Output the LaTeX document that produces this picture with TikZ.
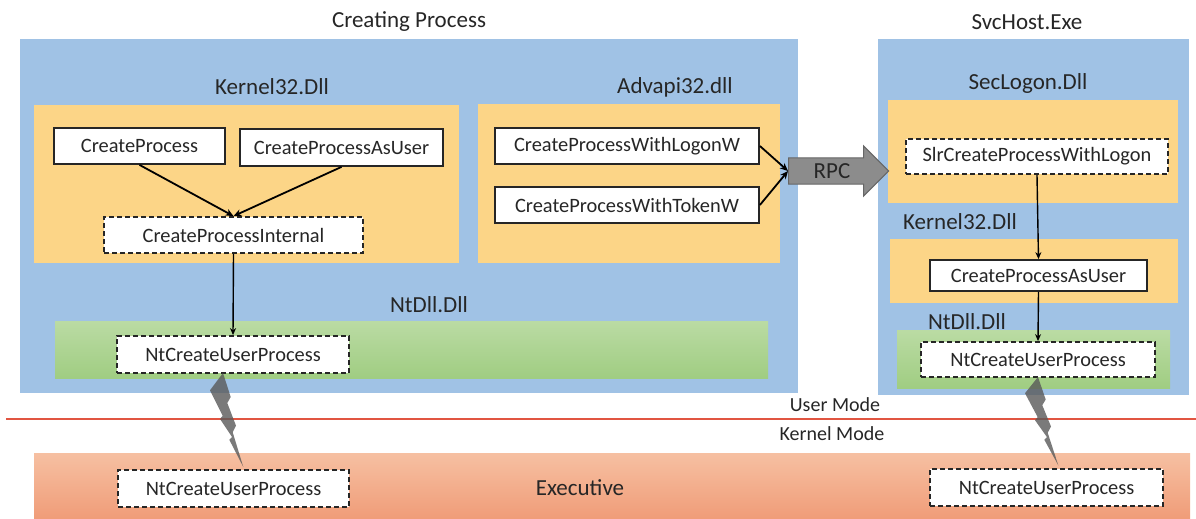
\documentclass[tikz,border=0pt]{standalone}
\usepackage{fontspec}
\setmainfont{Carlito}
\usetikzlibrary{shapes.arrows,arrows.meta}
\definecolor{bluebg}{RGB}{160,194,229}
\definecolor{orangebg}{RGB}{252,213,135}
\definecolor{greentop}{RGB}{186,219,163}
\definecolor{greenbot}{RGB}{160,205,130}
\definecolor{exectop}{RGB}{246,192,162}
\definecolor{execbot}{RGB}{240,156,120}
\definecolor{txt}{RGB}{38,38,38}
\definecolor{redline}{RGB}{225,85,65}
\begin{document}
\begin{tikzpicture}[x=0.5pt,y=-0.5pt,
  text=txt,
  solidbox/.style={draw=black!85, line width=0.9pt, fill=white, inner sep=0pt, font=\fontsize{10.2}{12}\selectfont},
  dashbox/.style={solidbox, dash pattern=on 2.5pt off 1.5pt},
  lbl/.style={font=\fontsize{11.5}{13}\selectfont, inner sep=0pt},
  modelbl/.style={font=\fontsize{10}{12}\selectfont, inner sep=0pt},
  conn/.style={draw=black, line width=0.9pt, -{Stealth[length=4pt,width=3.5pt]}},
  thinconn/.style={draw=black, line width=0.7pt, -{Stealth[length=3.5pt,width=3pt]}},
  bolt/.style={fill=black!65, fill opacity=0.8}]
\useasboundingbox (0,0) rectangle (1196,519);

% containers
\fill[bluebg] (20,39) rectangle (798,393);
\fill[bluebg] (878,39) rectangle (1189,395);
\fill[orangebg] (34,105) rectangle (459,263);
\fill[orangebg] (478,104) rectangle (780,263);
\fill[orangebg] (888,100) rectangle (1178,203);
\fill[orangebg] (890,239) rectangle (1178,303);
\shade[top color=greentop, bottom color=greenbot] (55,322) rectangle (768,378);
\shade[top color=greentop, bottom color=greenbot] (897,331) rectangle (1170,388);
\shade[top color=exectop, bottom color=execbot] (34,453) rectangle (1190,519);
\draw[redline, line width=0.8pt] (6,419) -- (1196,419);

% labels
\node[lbl] (tcp) at (409,22) {Creating Process};
\node[lbl] (tsvc) at (1027,22) {SvcHost.Exe};
\node[lbl] (tk32) at (272,87) {Kernel32.Dll};
\node[lbl] (tadv) at (675,87) {Advapi32.dll};
\node[lbl] (tsec) at (1028,83) {SecLogon.Dll};
\node[lbl] (tk32r) at (960,222) {Kernel32.Dll};
\node[lbl] (tntl) at (429,305) {NtDll.Dll};
\node[lbl] (tntr) at (967,322) {NtDll.Dll};
\node[modelbl] (tum) at (835,405) {User Mode};
\node[modelbl] (tkm) at (832,434) {Kernel Mode};
\node[lbl] (texe) at (580,488) {Executive};

% function boxes
\node[solidbox, minimum width=85.5pt, minimum height=18pt] (cp) at (139.5,146) {CreateProcess};
\node[solidbox, minimum width=101.5pt, minimum height=18.5pt] (cpau) at (341.5,147.5) {CreateProcessAsUser};
\node[dashbox, minimum width=129.5pt, minimum height=18pt] (cpi) at (233.5,235) {CreateProcessInternal};
\node[solidbox, minimum width=132pt, minimum height=18pt] (logon) at (627,146) {CreateProcessWithLogonW};
\node[solidbox, minimum width=132pt, minimum height=18pt] (token) at (627,205) {CreateProcessWithTokenW};
\node[dashbox, minimum width=131pt, minimum height=17.5pt] (slr) at (1037,156.5) {SlrCreateProcessWithLogon};
\node[solidbox, minimum width=108.5pt, minimum height=15.5pt] (cpau2) at (1038.5,275.5) {CreateProcessAsUser};
\node[dashbox, minimum width=116pt, minimum height=18.5pt] (ntl) at (233,354.5) {NtCreateUserProcess};
\node[dashbox, minimum width=117pt, minimum height=17.5pt] (ntr) at (1038,359.5) {NtCreateUserProcess};
\node[dashbox, minimum width=115.5pt, minimum height=18.5pt] (exl) at (233.5,488.5) {NtCreateUserProcess};
\node[dashbox, minimum width=116.5pt, minimum height=18.5pt] (exr) at (1046.5,487.5) {NtCreateUserProcess};

% RPC arrow
\node[single arrow, draw=black!60, line width=0.6pt, fill=black!45, single arrow head extend=5.5pt,
      minimum width=25pt, minimum height=50pt, inner sep=2pt, anchor=tail,
      font=\fontsize{11.5}{13}\selectfont] (rpc) at (788,171) {RPC};

% connectors
\draw[conn] (cp.south) -- (cpi.north);
\draw[conn] (cpau.south) -- (cpi.north);
\draw[thinconn] (cpi.south) -- (ntl.north);
\draw[conn] (logon.east) -- (rpc.tail);
\draw[conn] (token.east) -- (rpc.tail);
\draw[thinconn] (slr.south) -- (cpau2.north);
\draw[thinconn] (cpau2.south) -- (ntr.north);

% lightning bolts (syscall)
\fill[bolt, shift={(223,373)}] (0,0) -- (7.7,24) -- (4.3,30) -- (13,52.7) -- (9.7,59.3) -- (20.3,94)
  -- (6.3,66.7) -- (9,64) -- (-3,46) -- (-0.3,42.7) -- (-13,17.3) -- cycle;
\begin{scope}[shift={(1038,377)}, yscale=0.94]
\fill[bolt] (0,0) -- (7.7,24) -- (4.3,30) -- (13,52.7) -- (9.7,59.3) -- (20.3,94)
  -- (6.3,66.7) -- (9,64) -- (-3,46) -- (-0.3,42.7) -- (-13,17.3) -- cycle;
\end{scope}
\end{tikzpicture}
\end{document}
